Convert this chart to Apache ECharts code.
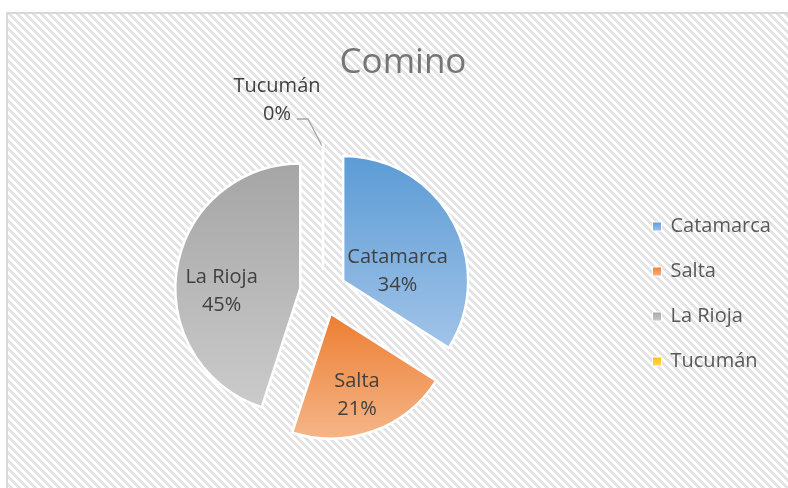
<!DOCTYPE html>
<html><head><meta charset="utf-8">
<script src="https://cdn.jsdelivr.net/npm/echarts@6/dist/echarts.min.js"></script>
<style>
html,body{margin:0;padding:0;background:#fff;width:788px;height:488px;overflow:hidden;}
#frame{position:absolute;left:6px;top:12px;width:800px;height:500px;border-left:2px solid #d9d9d9;border-top:2px solid #d9d9d9;box-sizing:border-box;}
#chart{position:absolute;left:0;top:0;width:788px;height:488px;}
</style></head>
<body>
<div id="frame"></div>
<div id="chart"></div>
<script>
const title = 'Comino';
const categories = ['Catamarca', 'Salta', 'La Rioja', 'Tucumán'];
const values = [34, 21, 45, 0];
const topColors = ['#5b9bd5', '#ed7d31', '#a5a5a5', '#ffc000'];
const bottomColors = ['#a2c4e8', '#f5b689', '#cbcbcb', '#ffd966'];

// hatched background pattern
(function(){
  const c = document.createElement('canvas'); c.width = 8; c.height = 8;
  const g = c.getContext('2d');
  g.fillStyle = '#ffffff'; g.fillRect(0,0,8,8);
  g.fillStyle = '#e3e3e3';
  for (let y=0;y<8;y++) for (let x=0;x<8;x++) if (((x - y) % 8 + 8) % 8 < 4) g.fillRect(x,y,1,1);
  document.getElementById('frame').style.backgroundImage = 'url(' + c.toDataURL() + ')';
})();

const labelFont = { fontFamily: 'Open Sans', fontSize: 20, lineHeight: 28, color: '#404040' };
const labelShift = [[-3, 22], [4, 20], [-14, 13], [13, -34]];
const chart = echarts.init(document.getElementById('chart'), null, {renderer: 'canvas'});
const data = categories.map((n, i) => ({
  name: n, value: values[i], selected: true,
  itemStyle: { color: { type: 'linear', x: 0, y: 0, x2: 0, y2: 1,
    colorStops: [{offset: 0, color: topColors[i]}, {offset: 1, color: bottomColors[i]}] } },
  label: i === 3
    ? { position: 'outside', formatter: '{c|{b}}\n{c|{d}%}',
        rich: { c: Object.assign({ width: 88, align: 'center' }, labelFont) } }
    : { position: 'inside' },
  labelLine: { show: i === 3 }
}));
chart.setOption({
  animation: false,
  backgroundColor: 'transparent',
  title: { text: title, left: 398, top: 41, textAlign: 'center',
    textStyle: { fontFamily: 'Open Sans', fontSize: 35, fontWeight: 'normal', color: '#757575' } },
  legend: {
    orient: 'vertical', left: 647, top: 211, itemWidth: 9, itemHeight: 9, itemGap: 24,
    icon: 'rect', selectedMode: false,
    itemStyle: { borderColor: '#fff', borderWidth: 1 },
    textStyle: { fontFamily: 'Open Sans', fontSize: 20, color: '#595959', padding: [0, 0, 0, 4], lineHeight: 21 },
    data: categories
  },
  series: [{
    type: 'pie', center: [323, 292], radius: 125,
    startAngle: 90, clockwise: true,
    selectedMode: 'multiple', selectedOffset: 23,
    avoidLabelOverlap: false,
    itemStyle: { borderColor: '#ffffff', borderWidth: 2.5 },
    label: Object.assign({ show: true, formatter: '{b}\n{d}%' }, labelFont),
    labelLine: { lineStyle: { color: '#a6a6a6', width: 1.3 }, length: 10, length2: 10 },
    labelLayout: function (p) {
      if (p.dataIndex === 3) {
        return { dx: labelShift[3][0], dy: labelShift[3][1],
          labelLinePoints: [[297, 142], [308, 142], [322, 169]] };
      }
      return { dx: labelShift[p.dataIndex][0], dy: labelShift[p.dataIndex][1] };
    },
    emphasis: { disabled: true },
    select: { itemStyle: { borderColor: '#ffffff', borderWidth: 2.5 } },
    data: data
  }]
});
</script>
</body></html>
